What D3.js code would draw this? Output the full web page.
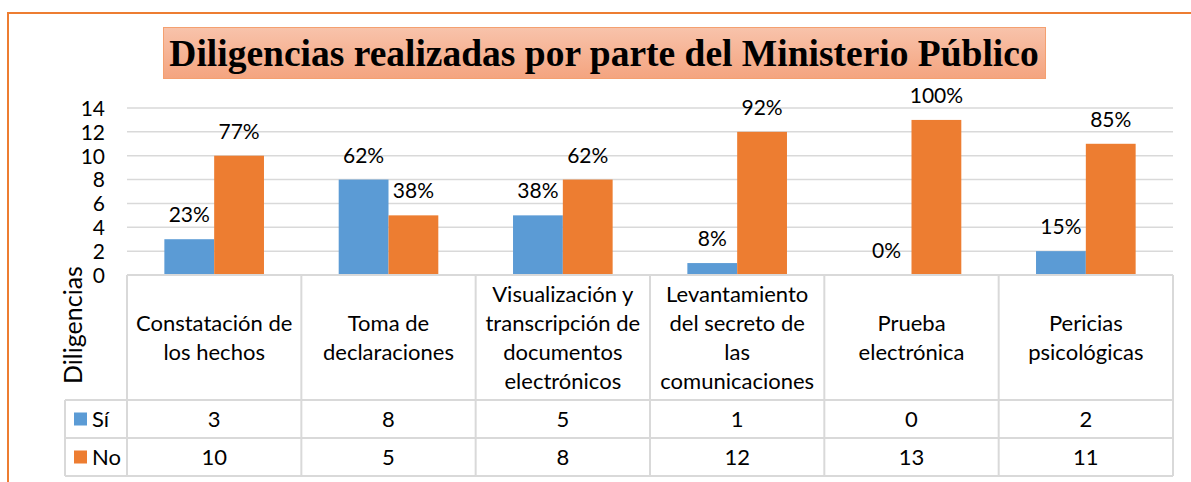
<!DOCTYPE html>
<html>
<head>
<meta charset="utf-8">
<script src="https://cdn.jsdelivr.net/npm/d3@7"></script>
<style>
  body { margin: 0; background: #fff; }
  svg { display: block; }
</style>
</head>
<body>
<div id="chart"></div>
<script>
// chart data
const categories = [
  ["Constatación de", "los hechos"],
  ["Toma de", "declaraciones"],
  ["Visualización y", "transcripción de", "documentos", "electrónicos"],
  ["Levantamiento", "del secreto de", "las", "comunicaciones"],
  ["Prueba", "electrónica"],
  ["Pericias", "psicológicas"]
];
const seriesNames = ["Sí", "No"];
const siValues = [3, 8, 5, 1, 0, 2];
const noValues = [10, 5, 8, 12, 13, 11];
const yTicks = [0, 2, 4, 6, 8, 10, 12, 14];

const colors = { "Sí": "#5b9bd5", "No": "#ed7d31" };
const font = "Lato, 'Open Sans', sans-serif";

const W = 1191, H = 482;
const svg = d3.select("#chart").append("svg")
    .attr("width", W)
    .attr("height", H);

// outer orange frame (top and left edges visible)
svg.append("path")
    .attr("d", `M8,${H + 5} L8,13 L${W + 5},13`)
    .attr("fill", "none")
    .attr("stroke", "#ed7d31")
    .attr("stroke-width", 2);

// title box with gradient
const grad = svg.append("defs").append("linearGradient")
    .attr("id", "titleGrad")
    .attr("x1", 0).attr("y1", 0).attr("x2", 0).attr("y2", 1);
grad.append("stop").attr("offset", "0%").attr("stop-color", "#f8c3ab");
grad.append("stop").attr("offset", "100%").attr("stop-color", "#f4a47f");

svg.append("rect")
    .attr("x", 163.5).attr("y", 27.5)
    .attr("width", 882).attr("height", 51)
    .attr("fill", "url(#titleGrad)")
    .attr("stroke", "#f4a070")
    .attr("stroke-width", 1);

svg.append("text")
    .attr("x", 604).attr("y", 66)
    .attr("text-anchor", "middle")
    .style("font-family", "'Liberation Serif', 'Times New Roman', serif")
    .style("font-weight", "bold")
    .style("font-size", "37.5px")
    .text("Diligencias realizadas por parte del Ministerio Público");

// scales
const plotLeft = 127, plotRight = 1173, plotTop = 108, plotBottom = 275;

const x0 = d3.scaleBand()
    .domain(d3.range(categories.length))
    .range([plotLeft, plotRight])
    .padding(0);

const x1 = d3.scaleBand()
    .domain(seriesNames)
    .range([0, x0.bandwidth()])
    .paddingInner(0)
    .paddingOuter(0.75);

const y = d3.scaleLinear()
    .domain([0, 14])
    .range([plotBottom, plotTop]);

// gridlines
svg.append("g")
    .selectAll("line")
    .data(yTicks.filter(d => d > 0))
    .join("line")
    .attr("x1", plotLeft).attr("x2", plotRight)
    .attr("y1", d => y(d)).attr("y2", d => y(d))
    .attr("stroke", "#d9d9d9")
    .attr("stroke-width", 1.5);

// y axis
const yAxis = svg.append("g")
    .attr("transform", `translate(${plotLeft - 22},0)`)
    .call(d3.axisLeft(y).tickValues(yTicks).tickSize(0).tickPadding(0));
yAxis.select(".domain").remove();
yAxis.selectAll("text")
    .style("font-family", font)
    .style("font-size", "21px")
    .attr("fill", "#000")
    .attr("dy", "0.35em");

// y title
svg.append("text")
    .attr("transform", `translate(82,325) rotate(-90)`)
    .attr("text-anchor", "middle")
    .style("font-family", font)
    .style("font-size", "25px")
    .text("Diligencias");

// bars
const rows = categories.map((c, i) => ({
  i: i,
  values: [
    { key: "Sí", value: siValues[i], total: siValues[i] + noValues[i] },
    { key: "No", value: noValues[i], total: siValues[i] + noValues[i] }
  ]
}));

const groups = svg.append("g")
    .selectAll("g")
    .data(rows)
    .join("g")
    .attr("transform", d => `translate(${x0(d.i)},0)`);

groups.selectAll("rect")
    .data(d => d.values)
    .join("rect")
    .attr("x", d => x1(d.key))
    .attr("y", d => y(d.value))
    .attr("width", x1.bandwidth())
    .attr("height", d => y(0) - y(d.value))
    .attr("fill", d => colors[d.key]);

// percent labels
groups.selectAll("text.pct")
    .data(d => d.values)
    .join("text")
    .attr("class", "pct")
    .attr("x", d => x1(d.key) + x1.bandwidth() / 2)
    .attr("y", d => y(d.value) - 17)
    .attr("text-anchor", "middle")
    .style("font-family", font)
    .style("font-size", "21px")
    .text(d => Math.round(d.value / d.total * 100) + "%");

// data table
const tableTop = plotBottom, headerBottom = 400, row1Bottom = 438, row2Bottom = 476;
const legendLeft = 65;
const gridColor = "#d9d9d9";
const table = svg.append("g")
    .attr("stroke", gridColor)
    .attr("stroke-width", 2)
    .attr("fill", "none");

// horizontal lines
table.append("line").attr("x1", plotLeft).attr("x2", plotRight).attr("y1", tableTop).attr("y2", tableTop);
[headerBottom, row1Bottom, row2Bottom].forEach(yy => {
  table.append("line").attr("x1", legendLeft).attr("x2", plotRight).attr("y1", yy).attr("y2", yy);
});
// vertical lines
d3.range(categories.length + 1).forEach(i => {
  const xx = i < categories.length ? x0(i) : plotRight;
  table.append("line").attr("x1", xx).attr("x2", xx).attr("y1", tableTop).attr("y2", row2Bottom);
});
table.append("line").attr("x1", legendLeft).attr("x2", legendLeft).attr("y1", headerBottom).attr("y2", row2Bottom);

// category labels
const lineH = 29;
categories.forEach((lines, i) => {
  const cx = x0(i) + x0.bandwidth() / 2;
  const mid = (tableTop + headerBottom) / 2;
  const startY = mid - (lines.length - 1) * lineH / 2 + 8;
  const t = svg.append("text")
      .attr("text-anchor", "middle")
      .style("font-family", font)
      .style("font-size", "22px");
  lines.forEach((ln, k) => {
    t.append("tspan").attr("x", cx).attr("y", startY + k * lineH).text(ln);
  });
});

// value rows + legend keys
const tableRows = [
  { key: "Sí", vals: siValues, top: headerBottom, bottom: row1Bottom },
  { key: "No", vals: noValues, top: row1Bottom, bottom: row2Bottom }
];
tableRows.forEach(r => {
  const cy = (r.top + r.bottom) / 2;
  svg.append("rect")
      .attr("x", 74).attr("y", cy - 6.5)
      .attr("width", 13).attr("height", 13)
      .attr("fill", colors[r.key]);
  svg.append("text")
      .attr("x", 92).attr("y", cy + 8)
      .style("font-family", font)
      .style("font-size", "22px")
      .text(r.key);
  r.vals.forEach((v, i) => {
    svg.append("text")
        .attr("x", x0(i) + x0.bandwidth() / 2)
        .attr("y", cy + 8)
        .attr("text-anchor", "middle")
        .style("font-family", font)
        .style("font-size", "22px")
        .text(v);
  });
});
</script>
</body>
</html>
